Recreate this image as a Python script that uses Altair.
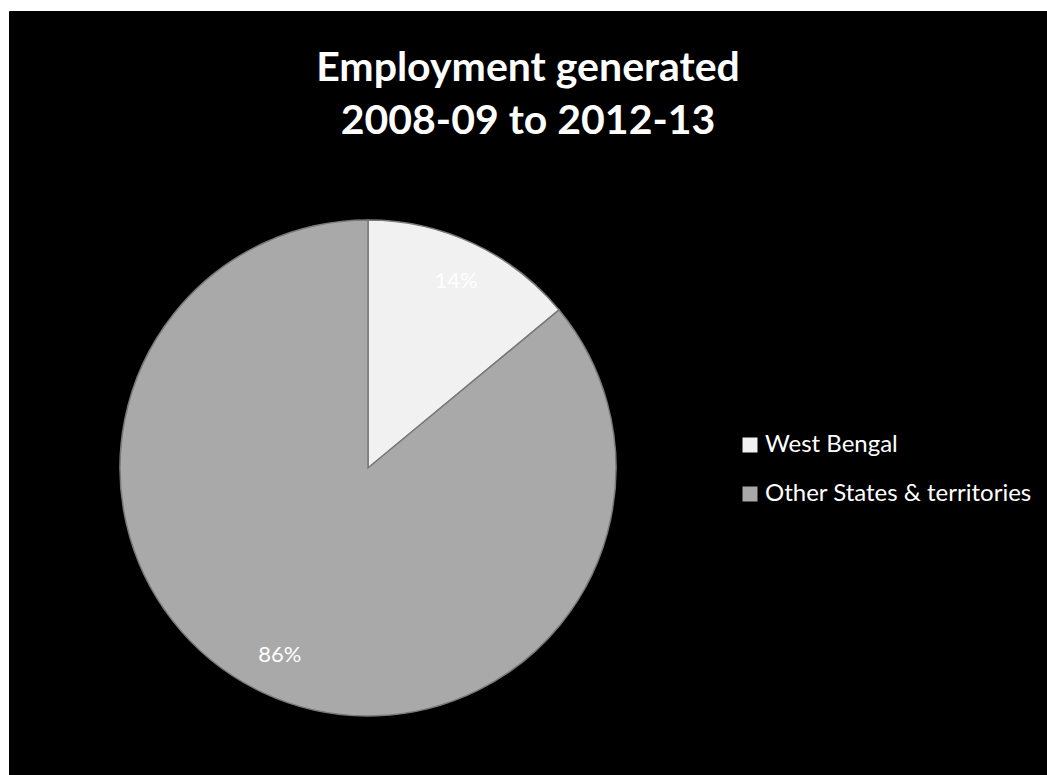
import altair as alt
import pandas as pd

categories = ["West Bengal", "Other States & territories"]
shares = [14, 86]
labels = ["14%", "86%"]
order_idx = [0, 1]
colors = ["#f1f1f1", "#a9a9a9"]
title_lines = ["Employment generated", "2008-09 to 2012-13"]

df = pd.DataFrame({"category": categories, "share": shares, "label": labels, "idx": order_idx})

base = alt.Chart(df).encode(
    theta=alt.Theta("share:Q", stack=True),
    order=alt.Order("idx:Q"),
)

pie = base.mark_arc(radius=248, stroke="#7a7a7a", strokeWidth=1.5).encode(
    color=alt.Color(
        "category:N",
        scale=alt.Scale(domain=categories, range=colors),
        legend=alt.Legend(
            title=None, orient="none", legendX=729, legendY=422,
            symbolType="square", symbolSize=225, symbolStrokeWidth=0,
            labelFontSize=24, labelColor="white", labelFont="Lato",
            rowPadding=25, labelOffset=3, labelLimit=400,
        ),
    ),
    x=alt.value(359),
    y=alt.value(457),
)

text = base.mark_text(radius=207, fontSize=22, color="white", font="Lato").encode(
    text="label:N",
    x=alt.value(359),
    y=alt.value(457),
)

chart = alt.layer(pie, text).properties(
    width=1038,
    height=764,
    autosize=alt.AutoSizeParams(type="none"),
    padding={"left": 9, "top": 11, "right": 0, "bottom": 0},
    background="white",
    title=alt.Title(
        title_lines, fontSize=41, font="Lato", fontWeight="bold", color="white",
        anchor="middle", frame="group", offset=-132, lineHeight=53,
    ),
).configure_view(fill="black", stroke="black")

chart.save("out.html", embed_options={"renderer": "svg", "actions": False})
